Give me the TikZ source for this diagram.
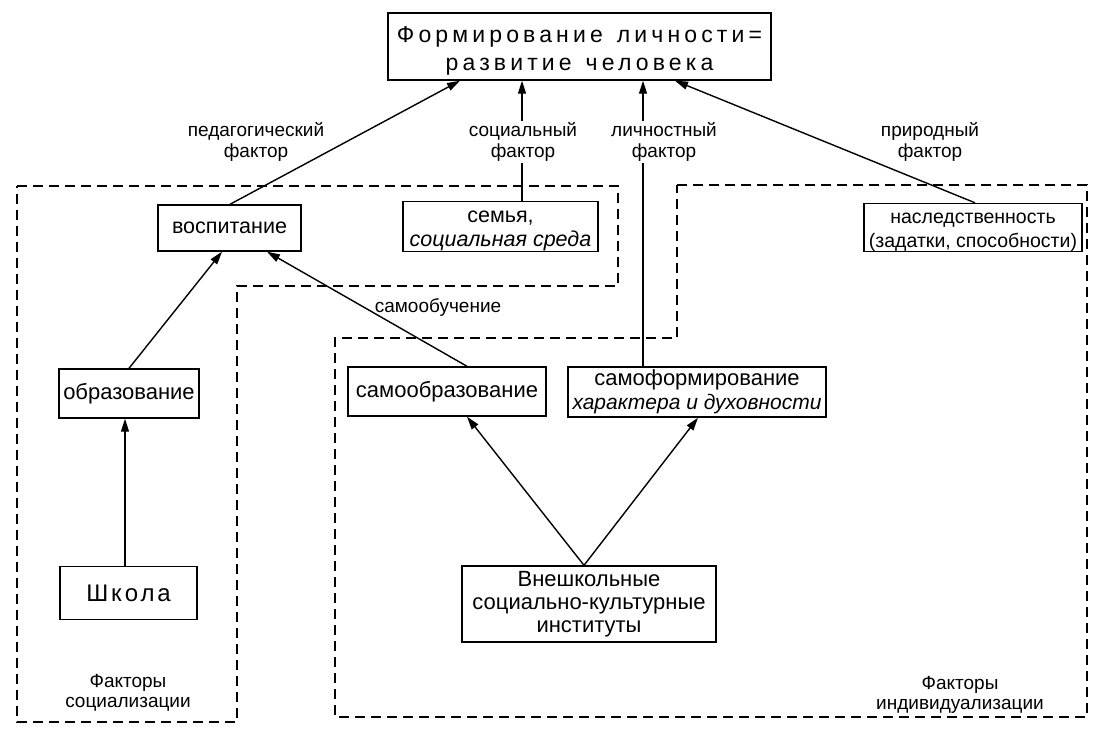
\documentclass[tikz,border=0pt]{standalone}
\usepackage{fontspec}
\setmainfont{Liberation Sans}
\newfontfamily\titlefont[LetterSpace=18]{Liberation Sans}
\newfontfamily\schoolfont[LetterSpace=12]{Liberation Sans}
\usetikzlibrary{arrows.meta,calc}
\begin{document}
\begin{tikzpicture}[x=1pt,y=-1pt,
  box/.style={draw,line width=1.4pt,inner sep=0pt,align=center,font=\fontsize{22}{24}\selectfont},
  lbl/.style={inner sep=2pt,align=center,font=\fontsize{19}{20.5}\selectfont},
  region/.style={draw,line width=1.8pt,dash pattern=on 10pt off 6pt},
  arr/.style={line width=1.4pt,-{Triangle[length=13pt,width=8pt]}},
  ln/.style={line width=1.3pt}]
\useasboundingbox (0,0) rectangle (1099,744);

% dashed regions
\draw[region] (17,186) -- (618,186) -- (618,286) -- (237,286) -- (237,722) -- (17,722) -- cycle;
\draw[region] (677,185) -- (1087,185) -- (1087,717) -- (335,717) -- (335,338) -- (677,338) -- cycle;

% boxes
\node[box,minimum width=383pt,minimum height=67pt,font=\titlefont\fontsize{23}{28.5}\selectfont] (top) at (579.5,46.5) {\rule{0pt}{25pt}Формирование\hspace{14pt}личности=\\развитие\hspace{14pt}человека};
\node[box,minimum width=143pt,minimum height=46pt,font=\fontsize{21.5}{24}\selectfont] (vosp) at (229.5,228) {воспитание};
\node[box,minimum width=195pt,minimum height=47pt,font=\fontsize{21.5}{24}\selectfont] (semya) at (500.5,226.5) {\rule{0pt}{21pt}семья,\\\itshape социальная среда};
\node[box,minimum width=218pt,minimum height=48pt,font=\fontsize{19.5}{24}\selectfont] (nasl) at (973,227.5) {\rule{0pt}{20pt}наследственность\\(задатки, способности)};
\node[box,minimum width=140pt,minimum height=49pt] (obraz) at (129,393.5) {образование};
\node[box,minimum width=137pt,minimum height=53pt,font=\schoolfont\fontsize{24}{26}\selectfont] (shkola) at (128.5,593) {Школа};
\node[box,minimum width=198pt,minimum height=49pt] (samoobr) at (447,391.5) {самообразование};
\node[box,minimum width=258pt,minimum height=50pt] (samoform) at (697,392) {самоформирование\\\fontsize{21}{24}\selectfont\itshape характера и духовности};
\node[box,minimum width=254pt,minimum height=76pt,font=\fontsize{22}{23}\selectfont] (vnesh) at (589,604) {Внешкольные\\социально-культурные\\институты};

% labels
\node[lbl] (pf) at (256,142) {педагогический\\фактор};
\node[lbl] (sf) at (523,142) {социальный\\фактор};
\node[lbl] (lf) at (664,142) {личностный\\фактор};
\node[lbl] (nf) at (930,142) {природный\\фактор};
\node[lbl] (so) at (438,307) {самообучение};
\node[lbl] (fs) at (128,693) {Факторы\\социализации};
\node[lbl] (fi) at (960,695) {Факторы\\индивидуализации};

% helper x positions
\coordinate (xs) at (522,0);
\coordinate (xl) at (643,0);
\coordinate (xo) at (125,0);

% connectors
\draw[arr] ([xshift=0.5pt]vosp.north) -- ([xshift=-119.5pt]top.south);
\draw[ln] (semya.north -| xs) -- (sf.south -| xs);
\draw[arr] (sf.north -| xs) -- (top.south -| xs);
\draw[ln] (samoform.north -| xl) -- (lf.south -| xl);
\draw[arr] (lf.north -| xl) -- (top.south -| xl);
\draw[arr] ([xshift=2pt]nasl.north) -- ([xshift=95.5pt]top.south);
\draw[arr] (obraz.north) -- ([xshift=-7.5pt]vosp.south);
\draw[arr] (shkola.north -| xo) -- (obraz.south -| xo);
\draw[arr] ([xshift=20pt]samoobr.north) -- ([xshift=37.5pt]vosp.south);
\draw[arr] ([xshift=-5pt]vnesh.north) -- ([xshift=20pt]samoobr.south);
\draw[arr] ([xshift=-5pt]vnesh.north) -- ([xshift=1pt]samoform.south);
\end{tikzpicture}
\end{document}
